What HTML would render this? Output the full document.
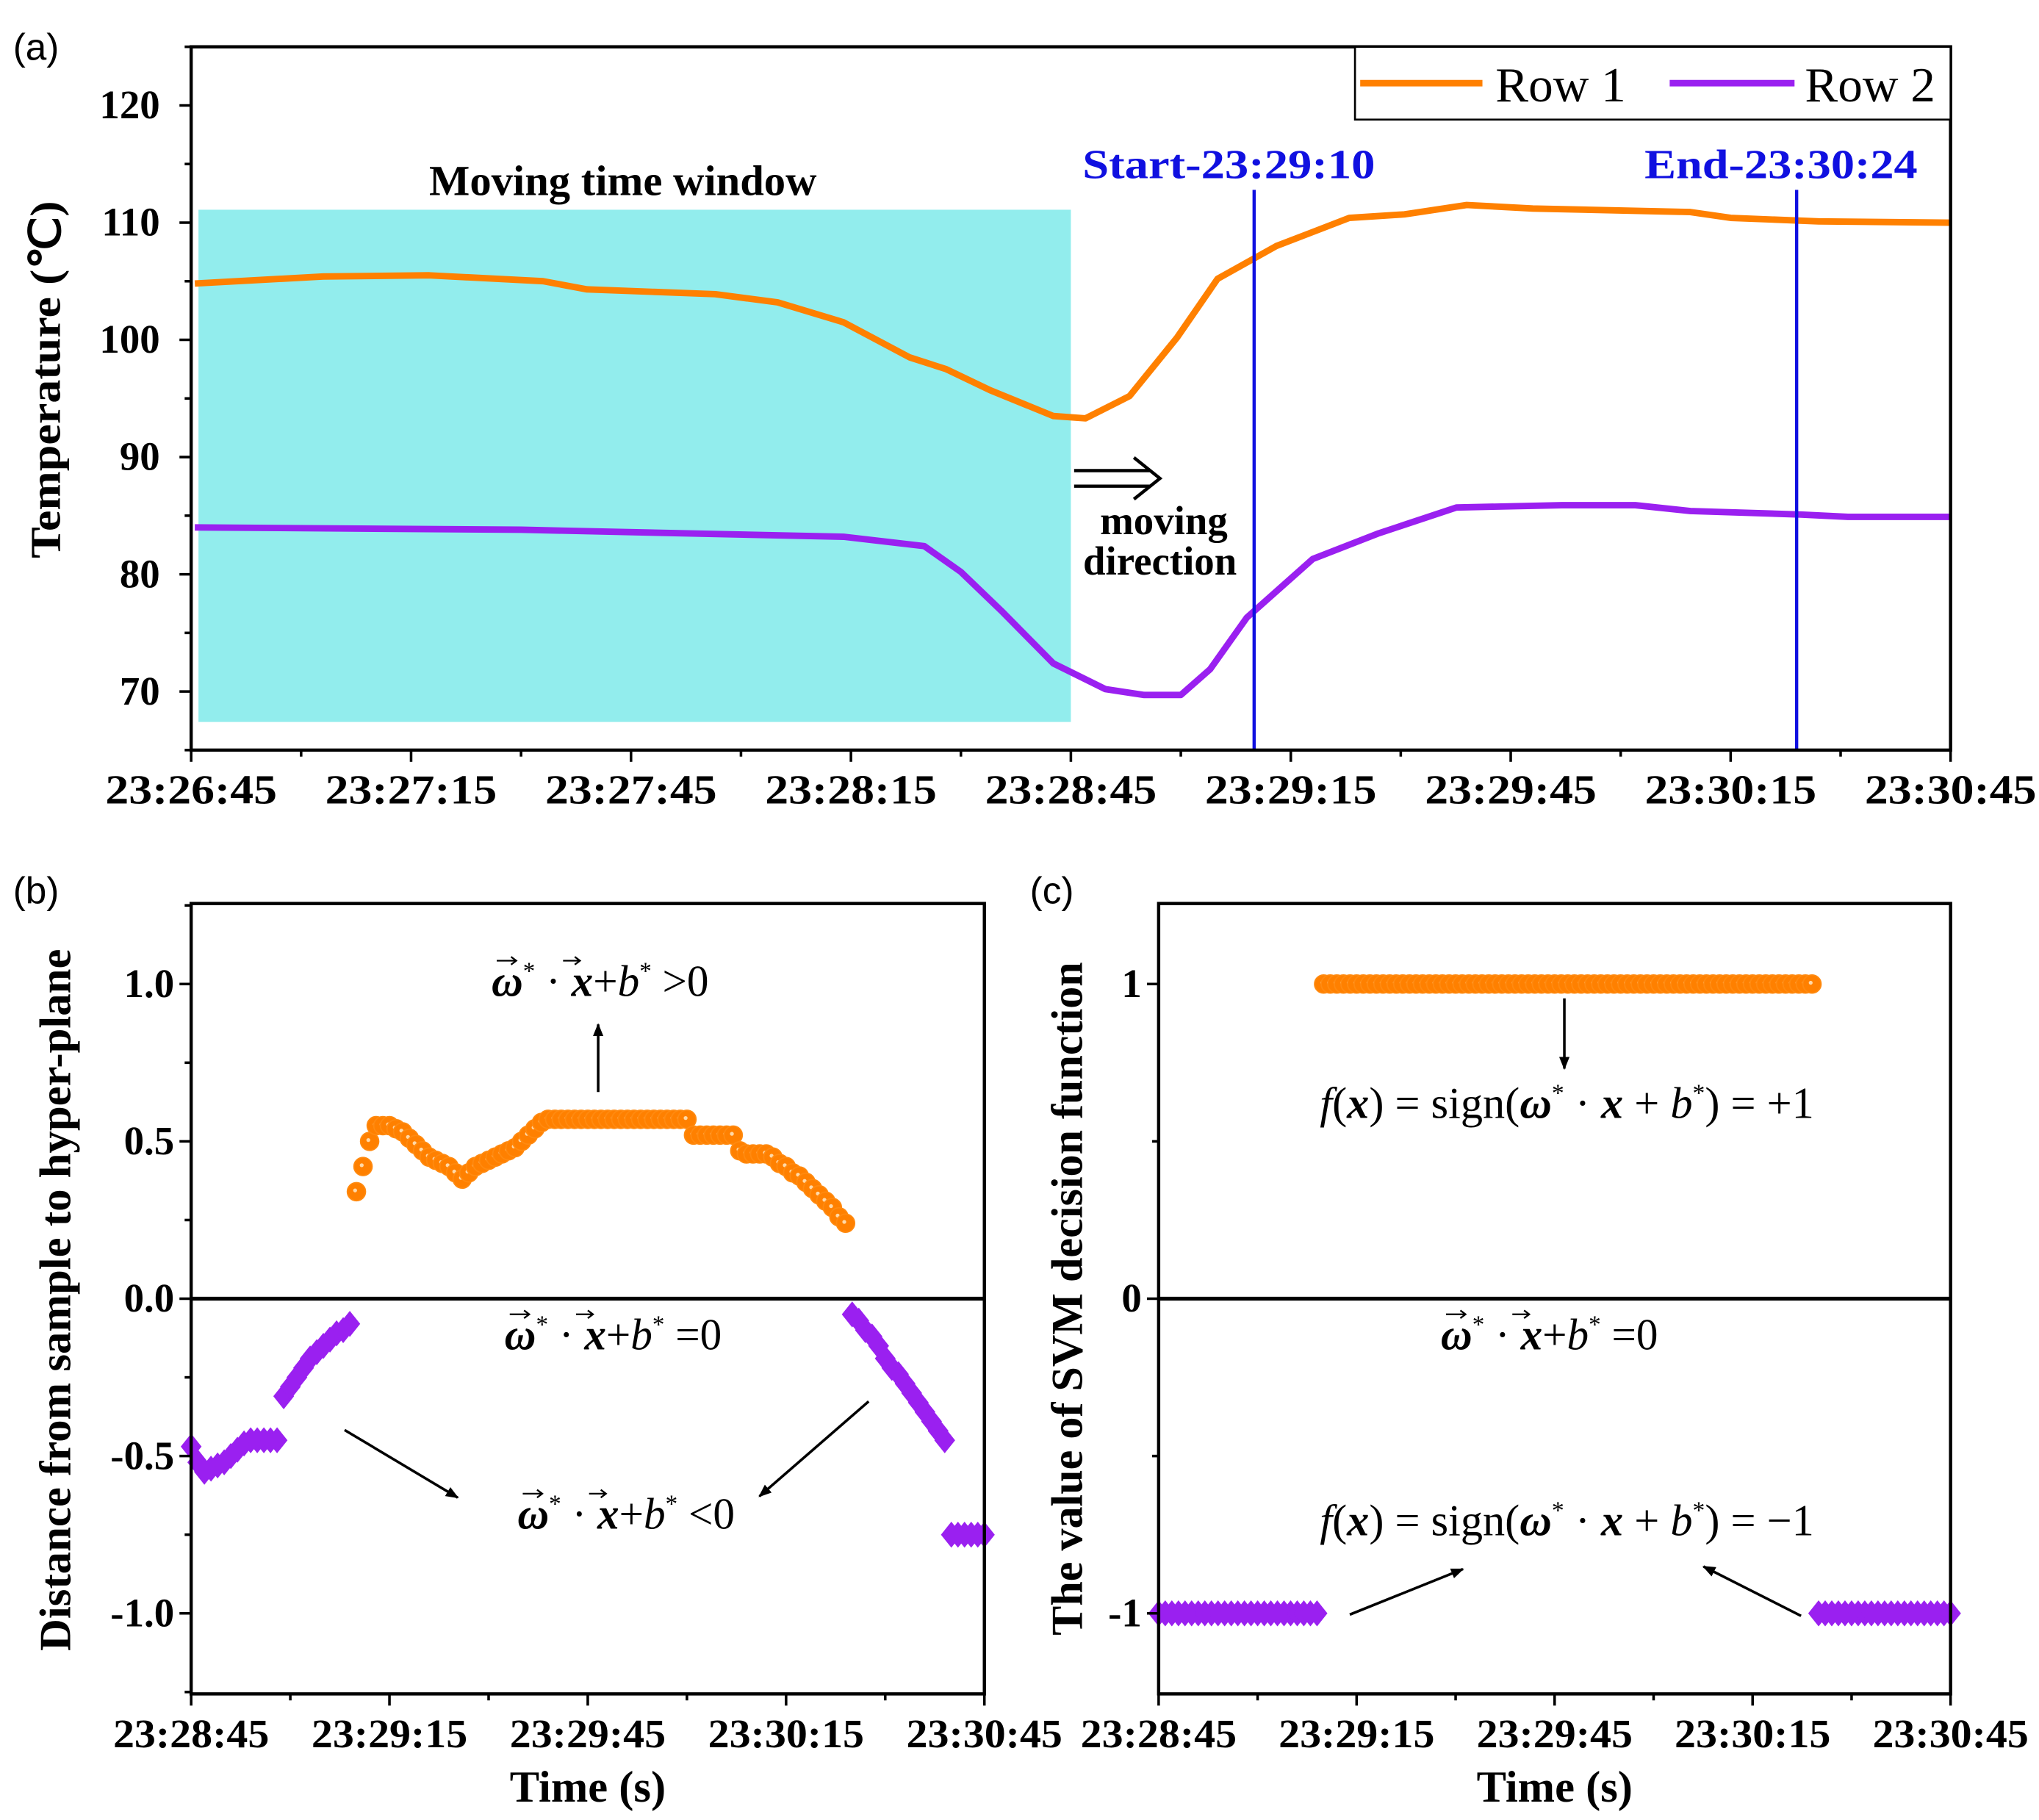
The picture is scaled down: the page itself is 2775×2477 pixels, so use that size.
<!DOCTYPE html>
<html><head><meta charset="utf-8"><style>
html,body{margin:0;padding:0;background:#fff;}
svg{display:block;}
text{font-family:"Liberation Serif",serif;}
text.sans{font-family:"Liberation Sans",sans-serif;}
</style></head><body>
<svg id="fig" xmlns="http://www.w3.org/2000/svg" width="2775" height="2477" viewBox="0 0 1568 1400" preserveAspectRatio="none">
<defs>
<marker id="ah" markerWidth="10" markerHeight="10" refX="9" refY="5" orient="auto" markerUnits="userSpaceOnUse" viewBox="0 0 10 10"><path d="M0,1 L10,5 L0,9 z" fill="#000"/></marker>
</defs>
</svg>
<script>
// ---------- data: panel (a) ----------
const aRow1Times = [0.5,18,32.5,48,54,71.5,80,89,98,103,109,117.6,122,128,134.5,140,148,158,165.5,174,183,204.5,210,222,240];
const aRow1Vals  = [104.8,105.4,105.5,105,104.3,103.9,103.2,101.5,98.5,97.5,95.7,93.5,93.3,95.2,100.2,105.2,108,110.4,110.7,111.5,111.2,110.9,110.4,110.1,110];
const aRow2Times = [0.5,45,89,100,105,110.5,117.6,124.7,130,135,139,144,153,162,172.6,187,197,204.5,219.6,226,240];
const aRow2Vals  = [84,83.8,83.2,82.4,80.2,76.9,72.4,70.2,69.7,69.7,71.9,76.3,81.3,83.5,85.7,85.9,85.9,85.4,85.1,84.9,84.9];
const aTickLabels = ["23:26:45","23:27:15","23:27:45","23:28:15","23:28:45","23:29:15","23:29:45","23:30:15","23:30:45"];
const aYTicks = [70,80,90,100,110,120];
const aMarkers = [145,219];
const aMarkerLabels = ["Start-23:29:10","End-23:30:24"];
// ---------- data: panel (b) ----------
const bPosTimes = [];
const bPosVals = [0.34,0.42,0.50,0.55,0.55,0.55,0.54,0.53,0.51,0.49,0.47,0.45,0.44,0.43,0.42,0.40,0.38,0.40,0.42,0.43,0.44,0.45,0.46,0.47,0.48,0.50,0.52,0.54,0.56,0.57,
0.57,0.57,0.57,0.57,0.57,0.57,0.57,0.57,0.57,0.57,0.57,0.57,0.57,0.57,0.57,0.57,0.57,0.57,0.57,0.57,0.57,
0.52,0.52,0.52,0.52,0.52,0.52,0.52,0.47,0.46,0.46,0.46,0.46,0.45,0.43,0.42,0.40,0.39,0.37,0.35,0.33,0.31,0.29,0.26,0.24];
for (let i = 0; i < bPosVals.length; i++) bPosTimes.push(25 + i);
const bNegTimes = [0,1,2,3,4,5,6,7,8,9,10,11,12,13,14,15,16,17,18,19,20,21,22,23,24,
100,101,102,103,104,105,106,107,108,109,110,111,112,113,114,115,116,117,118,119,120];
const bNegVals = [-0.47,-0.52,-0.55,-0.54,-0.53,-0.52,-0.50,-0.48,-0.46,-0.45,-0.45,-0.45,-0.45,-0.45,-0.31,-0.28,-0.25,-0.22,-0.19,-0.17,-0.15,-0.13,-0.11,-0.10,-0.08,
-0.05,-0.07,-0.10,-0.12,-0.15,-0.19,-0.22,-0.24,-0.27,-0.30,-0.33,-0.36,-0.39,-0.42,-0.45,-0.75,-0.75,-0.75,-0.75,-0.75,-0.75];
const bTickLabels = ["23:28:45","23:29:15","23:29:45","23:30:15","23:30:45"];
const bYTicks = [-1.0,-0.5,0.0,0.5,1.0];
const cYTicks = [-1,0,1];

const NS = "http://www.w3.org/2000/svg";
const svg = document.getElementById('fig');
function mk(tag, attrs, parent) {
  const e = document.createElementNS(NS, tag);
  for (const k in attrs) e.setAttribute(k, attrs[k]);
  (parent || svg).appendChild(e);
  return e;
}
function txt(s, x, y, size, opts, parent) {
  const e = mk('text', Object.assign({x:x, y:y, 'font-size':size}, opts || {}), parent);
  e.textContent = s;
  return e;
}
function scale(d0, d1, p0, p1) { return v => p0 + (v - d0) / (d1 - d0) * (p1 - p0); }
const ax = scale(0, 240, 147, 1500), ay = scale(65, 125, 577, 36);
const bx = scale(0, 120, 147, 757), by = scale(-1.256, 1.256, 1303, 695);
const cx = scale(0, 120, 891, 1500), cy = scale(-1.256, 1.256, 1303, 695);

// ===== Panel a =====
const gA = mk('g', {});


const win = mk('rect', {x: ax(1), y: ay(111.1), width: ax(120) - ax(1), height: ay(67.4) - ay(111.1), fill: '#92eded'}, gA);


function polyline(times, vals, xs, ys, color, name, parent) {
  const pts = times.map((t, i) => xs(t).toFixed(1) + ',' + ys(vals[i]).toFixed(1)).join(' ');
  const p = mk('polyline', {points: pts, fill: 'none', stroke: color, 'stroke-width': 5, 'stroke-linejoin': 'round'}, parent);
  
  
}
polyline(aRow1Times, aRow1Vals, ax, ay, '#ff8000', 'row1-line', gA);
polyline(aRow2Times, aRow2Vals, ax, ay, '#9a20f0', 'row2-line', gA);
const markerOffsets = [-132, -117];
const markerWidths = [225, 210];
aMarkers.forEach((t, i) => {
  const l = mk('line', {x1: ax(t), x2: ax(t), y1: 146, y2: 577, stroke: '#1010e0', 'stroke-width': 2.5}, gA);
  
  
  const tl = txt(aMarkerLabels[i], ax(t) + markerOffsets[i], 137, 32, {'font-weight': 'bold', fill: '#1010e0', textLength: markerWidths[i], lengthAdjust: 'spacingAndGlyphs'}, gA);
  
  
});
function frame(x0, y0, x1, y1, parent, name) {
  const r = mk('rect', {x: x0, y: y0, width: x1 - x0, height: y1 - y0, fill: 'none', stroke: '#000', 'stroke-width': 2.5}, parent);
  
  
}
frame(147, 36, 1500, 577, gA, 'plot-frame-a');
for (let t = 0; t <= 240; t += 15) {
  const major = t % 30 === 0;
  mk('line', {x1: ax(t), x2: ax(t), y1: 577, y2: 577 + (major ? 9 : 5), stroke: '#000', 'stroke-width': 2}, gA);
  if (major) {
    const lb = txt(aTickLabels[t / 30], ax(t), 618, 32, {'font-weight': 'bold', 'text-anchor': 'middle', textLength: 132, lengthAdjust: 'spacingAndGlyphs'}, gA);
    
    
  }
}
for (let v = 65; v <= 125; v += 5) {
  const major = aYTicks.indexOf(v) >= 0;
  mk('line', {x1: 147, x2: 147 - (major ? 9 : 5), y1: ay(v), y2: ay(v), stroke: '#000', 'stroke-width': 2}, gA);
}
aYTicks.forEach(v => {
  const lb = txt(String(v), 123, ay(v) + 10, 31, {'font-weight': 'bold', 'text-anchor': 'end'}, gA);
  
  
});
const yta = txt('Temperature (℃)', 0, 0, 33, {'font-weight': 'bold', 'text-anchor': 'middle', transform: 'translate(46,292) rotate(-90)', textLength: 275, lengthAdjust: 'spacingAndGlyphs'}, gA);


const pa = txt('(a)', 10, 46, 29, {'class': 'sans'}, gA);


const mtw = txt('Moving time window', 479, 150, 33, {'font-weight': 'bold', 'text-anchor': 'middle', textLength: 298, lengthAdjust: 'spacingAndGlyphs'}, gA);


const arr = mk('g', {}, gA);


mk('path', {d: 'M826,362 L884,362 M826,374 L884,374 M872,352 L892,368 L872,384', fill: 'none', stroke: '#000', 'stroke-width': 2.5}, arr);
const md1 = txt('moving', 895, 411, 31, {'font-weight': 'bold', 'text-anchor': 'middle'}, gA);


const md2 = txt('direction', 892, 442, 31, {'font-weight': 'bold', 'text-anchor': 'middle'}, gA);


const leg = mk('g', {}, gA);


mk('rect', {x: 1042, y: 36, width: 458, height: 56, fill: '#fff', stroke: '#000', 'stroke-width': 1.5}, leg);
const le1 = mk('line', {x1: 1046, x2: 1140, y1: 64, y2: 64, stroke: '#ff8000', 'stroke-width': 5}, leg);


txt('Row 1', 1150, 78, 38, {}, leg);
const le2 = mk('line', {x1: 1284, x2: 1380, y1: 64, y2: 64, stroke: '#9a20f0', 'stroke-width': 5}, leg);


txt('Row 2', 1388, 78, 38, {}, leg);

// ===== shared helpers =====
function circ(x, y, parent) {
  const c = mk('circle', {cx: x, cy: y, r: 7, fill: '#ff8000', stroke: '#ff8a10', 'stroke-width': 1}, parent);
  
  
  mk('circle', {cx: x - 1, cy: y - 1, r: 1.5, fill: '#ffd9a8'}, parent);
}
function diam(x, y, parent) {
  const d = mk('path', {d: `M${x},${y - 10} L${x + 8},${y} L${x},${y + 10} L${x - 8},${y} z`, fill: '#9a20f0'}, parent);
  
  
}
function timeAxis(xs, x0, x1, parent) {
  for (let t = 0; t <= 120; t += 15) {
    const major = t % 30 === 0;
    mk('line', {x1: xs(t), x2: xs(t), y1: 1303, y2: 1303 + (major ? 9 : 5), stroke: '#000', 'stroke-width': 2}, parent);
    if (major) {
      const lb = txt(bTickLabels[t / 30], xs(t), 1344, 31, {'font-weight': 'bold', 'text-anchor': 'middle', textLength: 120, lengthAdjust: 'spacingAndGlyphs'}, parent);
      
      
    }
  }
  const xt = txt('Time (s)', (x0 + x1) / 2, 1386, 34, {'font-weight': 'bold', 'text-anchor': 'middle', textLength: 120, lengthAdjust: 'spacingAndGlyphs'}, parent);
  
  
}
function mathLabel(x, y, rel, parent, name) {
  const g = mk('g', {}, parent);
  
  
  const t = mk('text', {x: x, y: y, 'font-size': 34, textLength: 167, lengthAdjust: 'spacingAndGlyphs'}, g);
  t.innerHTML = '<tspan font-weight="bold" font-style="italic">ω</tspan><tspan dy="-13" font-size="19">*</tspan><tspan dy="13"> · </tspan><tspan font-weight="bold" font-style="italic">x</tspan><tspan>+</tspan><tspan font-style="italic">b</tspan><tspan dy="-13" font-size="19">*</tspan><tspan dy="13">' + rel + '</tspan>';
  mk('path', {d: `M${x + 4},${y - 27} L${x + 19},${y - 27} M${x + 15},${y - 30} L${x + 19},${y - 27} L${x + 15},${y - 24}`, stroke: '#000', 'stroke-width': 1.3, fill: 'none'}, g);
  mk('path', {d: `M${x + 55},${y - 27} L${x + 68},${y - 27} M${x + 64},${y - 30} L${x + 68},${y - 27} L${x + 64},${y - 24}`, stroke: '#000', 'stroke-width': 1.3, fill: 'none'}, g);
}
function arrow(x1, y1, x2, y2, parent) {
  const a = mk('line', {x1: x1, y1: y1, x2: x2, y2: y2, stroke: '#000', 'stroke-width': 2, 'marker-end': 'url(#ah)'}, parent);
  
  
}

// ===== Panel b =====
const gB = mk('g', {});


const zb = mk('line', {x1: 147, x2: 757, y1: by(0), y2: by(0), stroke: '#000', 'stroke-width': 3}, gB);


bNegTimes.forEach((t, i) => diam(bx(t), by(bNegVals[i]), gB));
bPosTimes.forEach((t, i) => circ(bx(t), by(bPosVals[i]), gB));
frame(147, 695, 757, 1303, gB, 'plot-frame-b');
for (let v = -1.25; v <= 1.26; v += 0.25) {
  const major = Math.abs(v * 2 - Math.round(v * 2)) < 1e-6;
  mk('line', {x1: 147, x2: 147 - (major ? 9 : 5), y1: by(v), y2: by(v), stroke: '#000', 'stroke-width': 2}, gB);
}
bYTicks.forEach(v => {
  const lb = txt(v < 0 ? '-' + Math.abs(v).toFixed(1) : v.toFixed(1), 134, by(v) + 10, 31, {'font-weight': 'bold', 'text-anchor': 'end'}, gB);
  
  
});
timeAxis(bx, 147, 757, gB);
const ytb = txt('Distance from sample to hyper-plane', 0, 0, 34, {'font-weight': 'bold', 'text-anchor': 'middle', transform: 'translate(54,1000) rotate(-90)', textLength: 540, lengthAdjust: 'spacingAndGlyphs'}, gB);


const pb = txt('(b)', 10, 695, 29, {'class': 'sans'}, gB);


mathLabel(378, 766, ' >0', gB, 'positive-condition-label');
arrow(460, 840, 460, 788, gB);
mathLabel(388, 1038, ' =0', gB, 'hyperplane-label');
mathLabel(398, 1176, ' <0', gB, 'negative-condition-label');
arrow(265, 1100, 352, 1152, gB);
arrow(668, 1078, 584, 1151, gB);

// ===== Panel c =====
const gC = mk('g', {});


const zc = mk('line', {x1: 891, x2: 1500, y1: cy(0), y2: cy(0), stroke: '#000', 'stroke-width': 3}, gC);


bNegTimes.forEach((t, i) => diam(cx(t), cy(Math.sign(bNegVals[i])), gC));
bPosTimes.forEach((t, i) => circ(cx(t), cy(Math.sign(bPosVals[i])), gC));
frame(891, 695, 1500, 1303, gC, 'plot-frame-c');
for (let v = -1; v <= 1.01; v += 0.5) {
  const major = Number.isInteger(v);
  mk('line', {x1: 891, x2: 891 - (major ? 9 : 5), y1: cy(v), y2: cy(v), stroke: '#000', 'stroke-width': 2}, gC);
}
cYTicks.forEach(v => {
  const lb = txt(v < 0 ? '-' + Math.abs(v) : String(v), 878, cy(v) + 10, 31, {'font-weight': 'bold', 'text-anchor': 'end'}, gC);
  
  
});
timeAxis(cx, 891, 1500, gC);
const ytc = txt('The value of SVM decision function', 0, 0, 34, {'font-weight': 'bold', 'text-anchor': 'middle', transform: 'translate(832,999) rotate(-90)', textLength: 518, lengthAdjust: 'spacingAndGlyphs'}, gC);


const pc = txt('(c)', 792, 695, 29, {'class': 'sans'}, gC);


arrow(1203, 768, 1203, 822, gC);
const f1 = mk('text', {x: 1015, y: 860, 'font-size': 34, textLength: 380, lengthAdjust: 'spacingAndGlyphs'}, gC);


f1.innerHTML = '<tspan font-style="italic">f</tspan>(<tspan font-weight="bold" font-style="italic">x</tspan>) = sign(<tspan font-weight="bold" font-style="italic">ω</tspan><tspan dy="-13" font-size="19">*</tspan><tspan dy="13"> · </tspan><tspan font-weight="bold" font-style="italic">x</tspan> + <tspan font-style="italic">b</tspan><tspan dy="-13" font-size="19">*</tspan><tspan dy="13">) = +1</tspan>';
mathLabel(1108, 1038, ' =0', gC, 'hyperplane-label');
const f2 = mk('text', {x: 1015, y: 1181, 'font-size': 34, textLength: 380, lengthAdjust: 'spacingAndGlyphs'}, gC);


f2.innerHTML = '<tspan font-style="italic">f</tspan>(<tspan font-weight="bold" font-style="italic">x</tspan>) = sign(<tspan font-weight="bold" font-style="italic">ω</tspan><tspan dy="-13" font-size="19">*</tspan><tspan dy="13"> · </tspan><tspan font-weight="bold" font-style="italic">x</tspan> + <tspan font-style="italic">b</tspan><tspan dy="-13" font-size="19">*</tspan><tspan dy="13">) = −1</tspan>';
arrow(1038, 1242, 1125, 1207, gC);
arrow(1385, 1243, 1310, 1205, gC);
</script>
</body></html>
